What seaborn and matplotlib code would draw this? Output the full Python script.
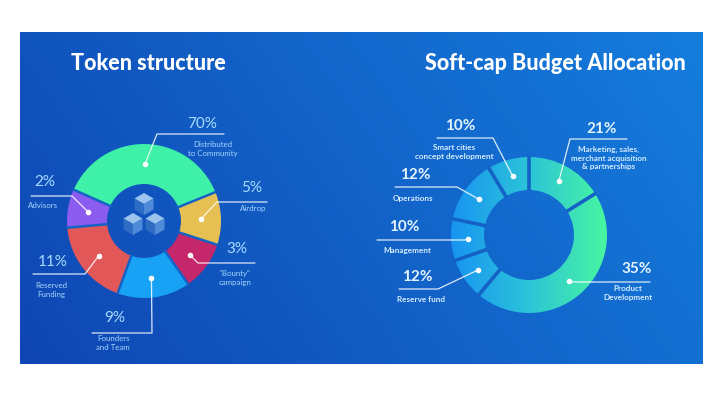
import numpy as np
import matplotlib
matplotlib.use("Agg")
import matplotlib.pyplot as plt
from matplotlib.patches import Polygon
import seaborn as sns

sns.set_theme(style="white")
plt.rcParams['font.family'] = ['Lato', 'DejaVu Sans']

# ---- data ----
token_names = ['Distributed\nto Community', 'Airdrop', '"Bounty"\ncampaign',
               'Founders\nand Team', 'Reserved\nFunding', 'Advisors']
token_pct = ['70%', '5%', '3%', '9%', '11%', '2%']
token_arc = [134, 40, 37, 55, 65, 29]          # arc sizes as drawn (degrees)
token_colors = ['#3ff0a8', '#e6c052', '#c4286a', '#18a2f6', '#e25858', '#8c5cf0']

budget_names = ['Marketing, sales,\nmerchant acquisition\n& partnerships',
                'Product\nDevelopment', 'Reserve fund', 'Management',
                'Operations', 'Smart cities\nconcept development']
budget_pct = ['21%', '35%', '12%', '10%', '12%', '10%']
budget_arc = [58, 162, 31, 31, 47, 31]          # arc sizes as drawn (degrees)

W, H = 720, 397
BG_EDGE = '#1462c6'


def P(x, y):
    return x, H - y


fig = plt.figure(figsize=(7.2, 3.97), dpi=100)
ax = fig.add_axes([0, 0, 1, 1])

# background panel gradient
gx, gy = np.meshgrid(np.linspace(0, 1, 300), np.linspace(0, 1, 150))
t = 0.75 * gx + 0.25 * (1 - gy)
bg_cmap = sns.blend_palette(['#0f46b4', '#1262c8', '#157ddc'], as_cmap=True)
ax.imshow(t, extent=[20, 703, H - 364, H - 32], origin='upper', cmap=bg_cmap,
          aspect='auto', zorder=0)

# titles
ax.text(*P(148, 64), 'Token structure', color='white', fontsize=15.5,
        fontweight='black', ha='center', va='center')
ax.text(*P(555, 64), 'Soft-cap Budget Allocation', color='white', fontsize=15.5,
        fontweight='black', ha='center', va='center')


def separators(wedges, center, lw):
    # thin background-coloured gaps between segments
    for w in wedges:
        a = np.deg2rad(w.theta1)
        r0, r1 = w.r - w.width - 1, w.r + 1
        ax.plot([center[0] + r0 * np.cos(a), center[0] + r1 * np.cos(a)],
                [center[1] + r0 * np.sin(a), center[1] + r1 * np.sin(a)],
                color=BG_EDGE, lw=lw, zorder=4, solid_capstyle='butt')


# ---- left donut ----
lc = P(144, 221)
lR, lr = 77, 37
lw, _ = ax.pie(token_arc, colors=token_colors, startangle=156, counterclock=False,
               center=lc, radius=lR, wedgeprops=dict(width=lR - lr, linewidth=0))
separators(lw, lc, 1.8)


def cube(cx, cy, s):
    ang = np.deg2rad([90, 30, -30, -90, -150, 150])
    v = [(cx + s * np.cos(a), cy + s * np.sin(a)) for a in ang]
    c = (cx, cy)
    ax.add_patch(Polygon([c, v[1], v[0], v[5]], closed=True, fc='#9cc2ee', ec='none', zorder=4))
    ax.add_patch(Polygon([c, v[5], v[4], v[3]], closed=True, fc='#2f6cc4', ec='none', zorder=4))
    ax.add_patch(Polygon([c, v[3], v[2], v[1]], closed=True, fc='#4f8ad8', ec='none', zorder=4))


cube(*P(144, 204), 11)
cube(*P(133, 224), 11)
cube(*P(155, 224), 11)

# ---- right donut (gradient fill) ----
rc = P(529, 235)
rR, rr = 78, 45
rw, _ = ax.pie(budget_arc, startangle=90, counterclock=False, center=rc, radius=rR,
               wedgeprops=dict(width=rR - rr, linewidth=0, facecolor='none'))
grad_cmap = sns.blend_palette(['#1894f2', '#2cc4d8', '#48f6a0'], as_cmap=True)
grad = np.tile(np.linspace(0, 1, 200), (50, 1))
for w in rw:
    im = ax.imshow(grad, extent=[rc[0] - rR, rc[0] + rR, rc[1] - rR, rc[1] + rR],
                   cmap=grad_cmap, aspect='auto', zorder=2)
    im.set_clip_path(w)
separators(rw, rc, 2.6)


def dot_pos(wedge, center, frac):
    a = np.deg2rad((wedge.theta1 + wedge.theta2) / 2)
    rad = wedge.r - wedge.width * frac
    return center[0] + rad * np.cos(a), center[1] + rad * np.sin(a)


# connectors: (elbow, end), pct pos, label pos  -- layout only
left_layout = [
    ((157, 134), (224, 134), (202, 124), (213, 149)),
    ((217, 202), (267, 202), (252, 188), (253, 208)),
    ((198, 263), (255, 263), (237, 249), (235, 278)),
    ((152, 333), (92, 333), (115, 318), (113, 343)),
    ((85, 274), (33, 274), (53, 262), (51, 290)),
    ((72, 196), (31, 196), (45, 182), (43, 206)),
]
right_layout = [
    ((570, 139), (627, 139), (602, 129), (609, 158)),
    ((575, 282), (650, 282), (637, 269), (628, 293)),
    ((438, 289), (399, 289), (417, 277), (421, 300)),
    ((465, 240), (377, 240), (404, 227), (407, 251)),
    ((457, 187), (395, 187), (415, 175), (413, 198)),
    ((493, 138), (437, 138), (460, 126), (454, 152)),
]


def draw_labels(wedges, center, pcts, names, layout, pct_color, name_color,
                pct_weight, name_weight, name_size, frac):
    for w, pct, name, (elb, end, pp, lp) in zip(wedges, pcts, names, layout):
        d = dot_pos(w, center, frac)
        e1, e2 = P(*elb), P(*end)
        ax.plot([d[0], e1[0], e2[0]], [d[1], e1[1], e2[1]], color='white',
                lw=0.9, alpha=0.85, zorder=5, solid_capstyle='round')
        ax.plot(*d, 'o', color='white', ms=3, zorder=6)
        ax.text(*P(*pp), pct, color=pct_color, fontsize=11, fontweight=pct_weight,
                ha='center', va='center', zorder=6)
        ax.text(*P(*lp), name, color=name_color, fontsize=name_size,
                fontweight=name_weight, ha='center', va='center',
                linespacing=1.3, zorder=6)


draw_labels(lw, lc, token_pct, token_names, left_layout, '#a8dcff', '#a6d6fa',
            'normal', 'normal', 5.7, 0.5)
draw_labels(rw, rc, budget_pct, budget_names, right_layout, '#e4f4ff', '#d6ecff',
            'bold', 'bold', 5.9, 0.5)

ax.set_xlim(0, W)
ax.set_ylim(0, H)
ax.set_aspect('auto')
ax.axis('off')
fig.savefig('out.png', dpi=100, facecolor='white')
